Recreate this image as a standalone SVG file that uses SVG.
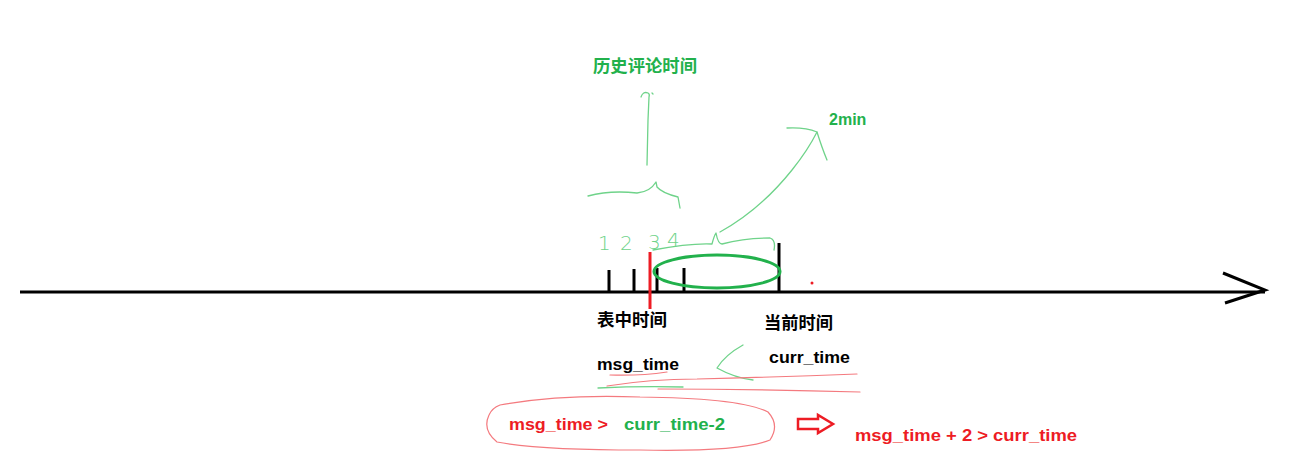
<svg xmlns="http://www.w3.org/2000/svg" width="1291" height="452" viewBox="0 0 1291 452">
<style>
.bk{fill:#000;font-family:"Noto Sans CJK SC","Liberation Sans",sans-serif;font-weight:bold}
.lat{font-family:"Liberation Sans","Noto Sans CJK SC",sans-serif;font-weight:bold}
.g{fill:#22b14c}
.r{fill:#ed1c24}
.gs{fill:none;stroke:#6fd38a;stroke-width:1.3;stroke-linecap:round;stroke-linejoin:round}
.rs{fill:none;stroke:#f47a7f;stroke-width:1.2;stroke-linecap:round}
.hw{fill:#6fd38a;font-family:"DejaVu Sans",sans-serif;font-weight:200;font-size:20px}
.tick{stroke:#000;stroke-width:3}
</style>
<rect width="1291" height="452" fill="#fff"/>
<g id="axis">
<line x1="20" y1="292" x2="1265" y2="292" stroke="#000" stroke-width="3"/>
<polyline points="1223,273 1265,290 1225,303" fill="none" stroke="#000" stroke-width="3" stroke-linejoin="miter"/>
</g>
<g id="ticks">
<line class="tick" x1="609" y1="270" x2="609" y2="292"/>
<line class="tick" x1="634" y1="269" x2="634" y2="292"/>
<line class="tick" x1="657" y1="268" x2="657" y2="292"/>
<line class="tick" x1="684" y1="268" x2="684" y2="292"/>
<line class="tick" x1="779" y1="243" x2="779" y2="292"/>
<circle cx="812" cy="283" r="1.5" fill="#ed1c24"/>
</g>
<g id="msg-marker">
<line x1="650" y1="252" x2="650" y2="309" stroke="#ed1c24" stroke-width="3"/>
</g>
<g id="window-ellipse">
<ellipse cx="717" cy="271.5" rx="63" ry="16.5" fill="none" stroke="#22b14c" stroke-width="3"/>
</g>
<g id="history-annotation">
<text x="593" y="72" class="g" font-family="Noto Sans CJK SC, sans-serif" font-weight="bold" font-size="17.5" textLength="104" lengthAdjust="spacingAndGlyphs">历史评论时间</text>
<path class="gs" d="M647,165 L648,120 L649,97 M641,97 Q643,91 648,93 Q650,94 649,97 M652,93 L653,94"/>
<path class="gs" d="M588,196 Q610,190 637,193 Q650,192 656,182 L657,187 Q662,193 678,197 L680,208"/>
<text x="598" y="250" class="hw">1</text>
<text x="620" y="250" class="hw">2</text>
<text x="648" y="249" class="hw">3</text>
<text x="667" y="247" class="hw">4</text>
</g>
<g id="window-annotation">
<path class="gs" d="M653,250 Q690,243 712,244 Q714,236 716,233 Q718,244 722,244 Q745,238 770,238 Q776,240 774,250"/>
<path class="gs" d="M720,232 Q760,210 792,170 Q808,150 817,132"/>
<path class="gs" d="M787,128 Q805,127 817,132 Q822,148 827,160"/>
<text x="829" y="125" class="g" font-family="Liberation Sans, sans-serif" font-weight="bold" font-size="16">2min</text>
</g>
<g id="labels">
<text x="597" y="326" class="bk" font-size="17.5" textLength="70" lengthAdjust="spacingAndGlyphs">表中时间</text>
<text x="764" y="329" class="bk" font-size="17.5" textLength="69" lengthAdjust="spacingAndGlyphs">当前时间</text>
<text x="597" y="370" class="bk lat" font-size="17" textLength="82" lengthAdjust="spacingAndGlyphs">msg_time</text>
<text x="769" y="363" class="bk lat" font-size="17" textLength="81" lengthAdjust="spacingAndGlyphs">curr_time</text>
</g>
<g id="scribbles">
<path class="gs" d="M743,345 Q725,355 717,368 Q735,378 753,380"/>
<path class="rs" d="M610,375 Q640,376 667,372"/>
<path class="rs" d="M607,386 Q650,379 697,379 Q780,377 857,374"/>
<path class="rs" d="M658,389 Q760,389 860,392"/>
<path class="gs" d="M598,388 Q640,386 683,387"/>
</g>
<g id="condition">
<path class="rs" d="M500,405 Q560,394 640,397 Q740,398 768,412 Q780,425 770,440 Q740,452 640,450 Q540,450 497,442 Q482,430 489,415 Q492,408 500,405 Z"/>
<text x="509" y="430" class="r lat" font-size="17" textLength="99" lengthAdjust="spacingAndGlyphs">msg_time &gt;</text>
<text x="624" y="430" class="g lat" font-size="17" textLength="101" lengthAdjust="spacingAndGlyphs">curr_time-2</text>
</g>
<g id="implies-arrow">
<path d="M798,419 L818,419 L818,415 L833,424 L818,433 L818,429 L798,429 Z" fill="none" stroke="#ed1c24" stroke-width="2.5" stroke-linejoin="miter"/>
</g>
<g id="result">
<text x="855" y="441" class="r lat" font-size="17" textLength="222" lengthAdjust="spacingAndGlyphs">msg_time + 2 &gt; curr_time</text>
</g>
</svg>
